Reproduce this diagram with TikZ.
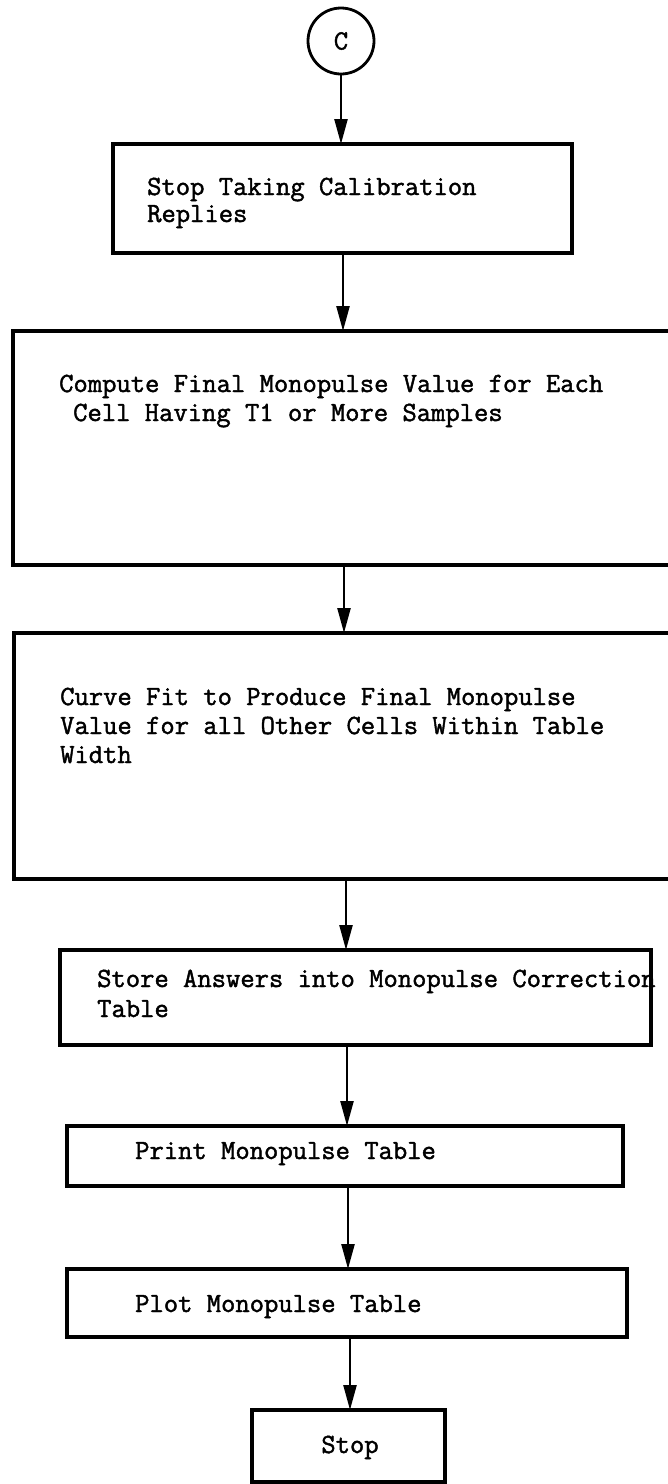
\documentclass[tikz,border=0pt]{standalone}
\usepackage{fontspec}
\usetikzlibrary{arrows.meta,calc}
\newfontfamily\typewriter{Latin Modern Mono}[FakeBold=1.6]
\begin{document}
\begin{tikzpicture}[x=1pt,y=-1pt,
  box/.style={draw, rectangle, line width=3.3pt, inner sep=0pt, outer sep=0pt},
  lbl/.style={anchor=base west, inner sep=0pt, font=\typewriter\fontsize{27.8}{29}\selectfont},
  arr/.style={line width=2.4pt, -{Triangle[length=25pt,width=13pt]}}]
\path[use as bounding box] (0,0) rectangle (668,1484);
\clip (0,0) rectangle (668,1484);

% connector circle
\node[circle, draw, line width=2.8pt, minimum size=66pt, inner sep=0pt, outer sep=0pt,
      font=\typewriter\fontsize{27.8}{29}\selectfont] (c) at (341,41) {C};

% process boxes
\node[box, minimum width=459pt, minimum height=109pt] (b1) at (342.5,198.5) {};
\node[box, minimum width=687pt, minimum height=234pt] (b2) at (356.5,448) {};
\node[box, minimum width=686pt, minimum height=246pt] (b3) at (357,756) {};
\node[box, minimum width=591pt, minimum height=95pt] (b4) at (355.5,997.5) {};
\node[box, minimum width=556pt, minimum height=60pt] (b5) at (345,1156) {};
\node[box, minimum width=560pt, minimum height=68pt] (b6) at (347,1303) {};
\node[box, minimum width=193pt, minimum height=72pt] (stop) at (348.5,1446) {};

% box texts
\node[lbl] (t1a) at (147,195) {Stop Taking Calibration};
\node[lbl] (t1b) at (147,222) {Replies};
\node[lbl] (t2a) at (59,392) {Compute Final Monopulse Value for Each};
\node[lbl] (t2b) at (73,421) {Cell Having T1 or More Samples};
\node[lbl] (t3a) at (60,705) {Curve Fit to Produce Final Monopulse};
\node[lbl] (t3b) at (60,734) {Value for all Other Cells Within Table};
\node[lbl] (t3c) at (60,763) {Width};
\node[lbl] (t4a) at (97,987) {Store Answers into Monopulse Correction};
\node[lbl] (t4b) at (97,1017) {Table};
\node[lbl] (t5) at (135,1159) {Print Monopulse Table};
\node[lbl] (t6) at (135,1312) {Plot Monopulse Table};
\node[lbl, anchor=base] (t7) at (350,1453) {Stop};

% flow arrows
\draw[arr] (c.south) -- (b1.north -| c);
\draw[arr] ($(b1.south -| c)+(2,0)$) -- ($(b2.north -| c)+(2,0)$);
\draw[arr] ($(b2.south -| c)+(3,0)$) -- ($(b3.north -| c)+(3,0)$);
\draw[arr] ($(b3.south -| c)+(5,0)$) -- ($(b4.north -| c)+(5,0)$);
\draw[arr] ($(b4.south -| c)+(6,0)$) -- ($(b5.north -| c)+(6,0)$);
\draw[arr] ($(b5.south -| c)+(7,0)$) -- ($(b6.north -| c)+(7,0)$);
\draw[arr] ($(b6.south -| c)+(9,0)$) -- ($(stop.north -| c)+(9,0)$);
\end{tikzpicture}
\end{document}
